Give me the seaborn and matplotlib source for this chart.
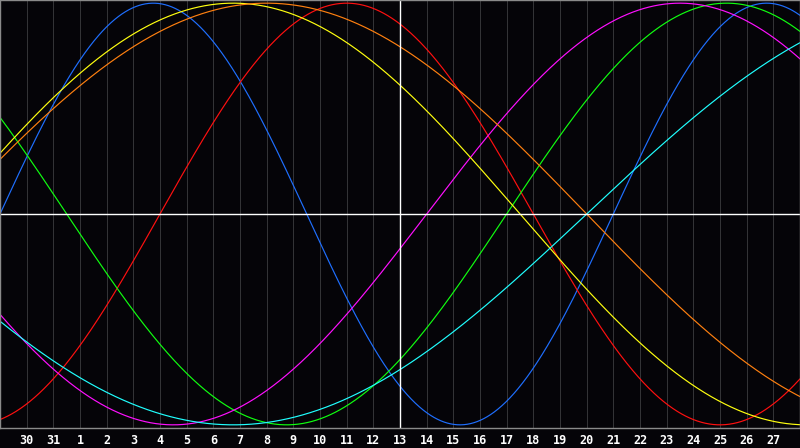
import numpy as np
import pandas as pd
import matplotlib
matplotlib.use("Agg")
import matplotlib.pyplot as plt
import seaborn as sns

# biorhythm cycles (period in days) and colour of each curve
cycles = ["physical", "emotional", "intellectual", "intuitive", "aesthetic", "awareness", "spiritual"]
periods = [23, 28, 33, 38, 43, 48, 53]
colors = ["#1f6fff", "#ff1010", "#10ff10", "#ff10ff", "#ffff10", "#ff8010", "#20ffff"]

# days alive at the left edge of the chart, 30 days shown
days_alive = 16514
n_days = 30
today = 15  # index of the 13th
day_labels = ["30", "31"] + [str(d) for d in range(1, 28)]

t = np.linspace(0, n_days, 1201)
rows = []
for name, p in zip(cycles, periods):
    rows.append(pd.DataFrame({"day": t, "value": np.sin(2 * np.pi * (days_alive + t) / p), "cycle": name}))
df = pd.concat(rows, ignore_index=True)

sns.set_style("dark")
bg = "#050408"
fig = plt.figure(figsize=(8, 4.48), dpi=100, facecolor=bg)
ax = fig.add_axes([0, 20 / 448, 1, 428 / 448])
ax.set_facecolor(bg)

sns.lineplot(data=df, x="day", y="value", hue="cycle", palette=dict(zip(cycles, colors)),
             hue_order=cycles, linewidth=0.85, legend=False, ax=ax, estimator=None, sort=False)

ax.set_xlim(0, n_days)
ax.set_ylim(-1.015, 1.015)
ax.set_xticks(range(1, n_days))
ax.set_xticklabels(day_labels, color="white", fontsize=8.5, fontweight="bold", family="DejaVu Sans Mono")
ax.set_yticks([])
ax.tick_params(axis="x", length=0, pad=4)
ax.grid(axis="x", color="#333336", linewidth=0.75)
ax.grid(axis="y", visible=False)
ax.axhline(0, color="white", linewidth=1.0)
ax.axvline(today, color="white", linewidth=1.0)
ax.set_xlabel("")
ax.set_ylabel("")
for s in ax.spines.values():
    s.set_visible(True)
    s.set_color("#8a8a8a")
    s.set_linewidth(1.0)

fig.savefig("out.png", dpi=100, facecolor=bg)
